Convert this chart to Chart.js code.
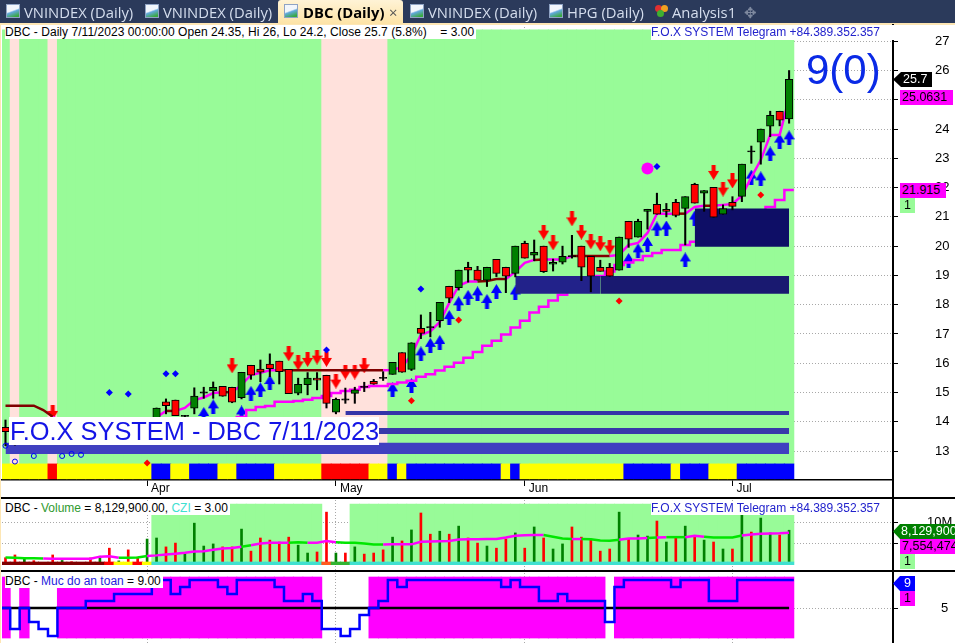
<!DOCTYPE html>
<html>
<head>
<meta charset="utf-8">
<title>DBC (Daily)</title>
<script src="https://cdn.jsdelivr.net/npm/chart.js@4"></script>
<style>
html, body { margin: 0; padding: 0; background: #fff; }
body { position: relative; width: 955px; height: 643px; overflow: hidden; font-family: "Liberation Sans", Arial, sans-serif; }
canvas { position: absolute; left: 0; }
.abs { position: absolute; white-space: nowrap; }
#tabbar { left: 0; top: 0; width: 955px; height: 23px; background: #2b3a5b; }
#tabline { left: 0; top: 23px; width: 955px; height: 2px; background: #fde6b4; }
#activeTab { left: 278px; top: 0; width: 125px; height: 24px; background: linear-gradient(#fff3d6, #fde3a6); border-radius: 3px 3px 0 0; }
.tab { top: 2px; font: 14.8px "Open Sans", sans-serif; color: #d5deee; line-height: 20px; }
.icon { top: 4px; width: 14px; height: 14px; box-sizing: border-box; border: 1px solid #8fa3c4; background: linear-gradient(160deg, #f2f6fc 45%, #63a9dc 55%, #39a83e 90%); }
.line { background: #000; }
.head { font-size: 12px; line-height: 14px; background: #fff; color: #000; padding-right: 2px; }
.fox { font-size: 12px; line-height: 14px; background: #fff; color: #2222cc; }
.tag { font-size: 12.5px; line-height: 15px; height: 15px; text-align: left; overflow: hidden; box-sizing: border-box; padding-left: 2px; }
.dot { width: 7px; height: 7px; border-radius: 50%; }
</style>
</head>
<body>
<canvas id="priceChart" width="955" height="473" style="top:24px"></canvas>
<canvas id="volumeChart" width="955" height="73" style="top:497px"></canvas>
<canvas id="safetyChart" width="955" height="73" style="top:570px"></canvas>

<div class="abs" id="tabbar"></div>
<div class="abs" id="tabline"></div>
<div class="abs" id="activeTab"></div>
<div class="abs icon" style="left:6px"></div><div class="abs tab" style="left:24px">VNINDEX (Daily)</div>
<div class="abs icon" style="left:145px"></div><div class="abs tab" style="left:163px">VNINDEX (Daily)</div>
<div class="abs icon" style="left:284px"></div><div class="abs tab" style="left:303px;color:#000;font-weight:700">DBC (Daily)</div>
<div class="abs tab" style="left:389px;color:#555">×</div>
<div class="abs icon" style="left:410px"></div><div class="abs tab" style="left:428px">VNINDEX (Daily)</div>
<div class="abs icon" style="left:549px"></div><div class="abs tab" style="left:567px">HPG (Daily)</div>
<div class="abs dot" style="left:655px;top:5px;background:#e03030"></div>
<div class="abs dot" style="left:661px;top:5px;background:#f0a020"></div>
<div class="abs dot" style="left:657px;top:10px;background:#40b030"></div>
<div class="abs tab" style="left:672px">Analysis1</div>
<div class="abs tab" style="left:744px;color:#7f8aa0">✥</div>

<div class="abs line" style="left:892px;top:24px;width:1.5px;height:619px"></div>
<div class="abs line" style="left:0;top:497px;width:955px;height:1.5px"></div>
<div class="abs line" style="left:0;top:570px;width:955px;height:1.5px"></div>
<div class="abs" style="left:0;top:25px;width:1px;height:618px;background:#fde6b4"></div>

<div class="abs head" style="left:5px;top:25px;height:14px;letter-spacing:.04px">DBC - Daily 7/11/2023 00:00:00 Open 24.35, Hi 26, Lo 24.2, Close 25.7 (5.8%) &nbsp; &nbsp;= 3.00</div>
<div class="abs fox" style="left:651px;top:25px;height:15px;width:243px;background:#fff">F.O.X SYSTEM Telegram +84.389.352.357</div>
<div class="abs" style="left:806px;top:44px;font-size:42px;line-height:52px;color:#0a2ae6">9(0)</div>
<div class="abs" style="left:9px;top:417px;width:370px;height:28px;background:#fff;color:#1414e6;font-size:25.4px;line-height:28px;padding-left:1px;box-sizing:border-box">F.O.X SYSTEM - DBC 7/11/2023</div>

<div class="abs tag" style="left:893px;top:72px;width:39px;background:#000;color:#fff;padding-left:10px;clip-path:polygon(0 50%,8px 0,100% 0,100% 100%,8px 100%)">25.7</div>
<div class="abs tag" style="left:900px;top:90px;width:53px;background:#f0f;color:#000">25.0631</div>
<div class="abs tag" style="left:900px;top:183px;width:46px;background:#f0f;color:#000">21.915</div>
<div class="abs tag" style="left:900px;top:198px;width:15px;background:#98fb98;color:#000;padding-left:4px">1</div>

<div class="abs head" style="left:5px;top:501px;height:14px"><span>DBC - </span><span style="color:#2f9a2f">Volume</span><span> = 8,129,900.00, </span><span style="color:#40e0d0">CZI</span><span> = 3.00</span></div>
<div class="abs fox" style="left:651px;top:501px;height:14px">F.O.X SYSTEM Telegram +84.389.352.357</div>
<div class="abs tag" style="left:893px;top:524px;width:62px;background:#008000;color:#fff;padding-left:8px;clip-path:polygon(0 50%,7px 0,100% 0,100% 100%,7px 100%)">8,129,900</div>
<div class="abs tag" style="left:900px;top:539px;width:55px;background:#f0f;color:#000">7,554,474</div>
<div class="abs tag" style="left:900px;top:554px;width:15px;background:#98fb98;color:#000;padding-left:4px">1</div>

<div class="abs head" style="left:5px;top:574px;height:14px"><span>DBC - </span><span style="color:#2222dd">Muc do an toan</span><span> = 9.00</span></div>
<div class="abs tag" style="left:893px;top:576px;width:22px;background:#00f;color:#fff;padding-left:11px;clip-path:polygon(0 50%,7px 0,100% 0,100% 100%,7px 100%)">9</div>
<div class="abs tag" style="left:900px;top:591px;width:15px;background:#f0f;color:#000;padding-left:4px">1</div>

<script>
// Trading days shown on the chart
const tradingDays = [
    '03-13','03-14','03-15','03-16','03-17','03-20','03-21','03-22','03-23','03-24','03-27','03-28','03-29','03-30','03-31',
    '04-03','04-04','04-05','04-06','04-07','04-10','04-11','04-12','04-13','04-14','04-17','04-18','04-19','04-20','04-21','04-24','04-25','04-26','04-27','04-28',
    '05-04','05-05','05-08','05-09','05-10','05-11','05-12','05-15','05-16','05-17','05-18','05-19','05-22','05-23','05-24','05-25','05-26','05-29','05-30','05-31',
    '06-01','06-02','06-05','06-06','06-07','06-08','06-09','06-12','06-13','06-14','06-15','06-16','06-19','06-20','06-21','06-22','06-23','06-26','06-27','06-28','06-29','06-30',
    '07-03','07-04','07-05','07-06','07-07','07-10','07-11'
];
const monthTickDays = ['04-03','05-04','06-01','07-03'];
const monthTickLabels = ['Apr','May','Jun','Jul'];
const priceTicks = [13,14,15,16,17,18,19,20,21,22,23,24,25,26,27];

// Candles (first bars sit behind the title box, values there are estimates)
const opens = [13.81,13.6,13.5,13.7,13.6,13.7,13.5,13.7,13.6,13.7,13.65,13.8,13.7,13.85,13.7,13.75,14.0,14.68,14.74,14.2,14.46,15.0,15.06,15.21,15.18,14.82,15.93,15.8,15.97,16.07,15.79,14.98,15.27,15.49,15.59,14.33,14.76,14.97,15.19,15.38,15.5,15.62,16.36,15.79,17.19,17.23,17.45,18.63,18.58,19.28,19.18,18.84,19.55,19.28,19.07,20.1,19.69,20.0,19.38,19.45,19.66,20.0,19.65,19.28,19.28,19.18,20.85,20.31,21.19,21.43,21.26,21.5,21.29,22.11,21.81,22.01,21.09,21.5,21.7,23.24,23.55,24.1,24.61,24.35];
const highs = [14.06,13.85,13.8,13.9,13.8,13.9,13.8,13.8,13.8,13.9,13.9,14.0,13.95,14.0,13.9,14.05,14.47,14.78,14.74,14.22,15.16,15.18,15.36,15.21,15.18,15.69,15.93,16.11,16.32,16.07,15.79,15.49,15.68,15.68,15.59,14.81,15.15,15.18,15.35,15.45,15.71,16.03,16.36,16.7,17.65,17.74,18.08,18.63,19.18,19.45,19.31,19.28,19.55,19.28,20.0,20.17,20.21,20.0,19.56,20.0,20.37,20.0,19.65,19.52,19.41,20.31,20.85,20.92,21.26,21.81,21.46,21.6,21.69,22.15,21.9,22.01,21.41,21.69,22.8,23.42,24.0,24.61,24.61,26];
const lows = [13.18,13.2,13.4,13.5,13.5,13.4,13.4,13.5,13.5,13.6,13.6,13.6,13.6,13.6,13.6,13.7,13.9,14.27,14.21,13.9,14.27,14.8,14.8,14.87,14.65,14.78,15.45,15.37,15.54,15.29,14.96,14.92,14.92,15.09,14.47,14.27,14.63,14.63,15.03,15.28,15.41,15.62,15.69,15.75,16.84,16.9,17.23,18.07,18.5,18.77,18.84,18.62,18.96,18.41,18.95,19.59,19.5,19.1,19.15,19.39,19.59,18.82,18.44,19.14,18.97,19.18,19.96,20.31,20.58,21.09,21.0,21.0,20.04,21.47,21.19,20.99,21.09,21.24,21.52,22.83,22.8,23.74,24.11,24.2];
const closes = [13.66,13.45,13.7,13.6,13.7,13.5,13.7,13.6,13.7,13.65,13.8,13.7,13.85,13.7,13.75,14.0,14.47,14.55,14.21,14.18,14.88,15.0,15.18,14.87,14.67,15.69,15.59,15.69,15.81,15.71,14.96,15.28,15.49,15.42,14.63,14.77,14.76,15.09,15.19,15.28,15.5,16.03,15.69,16.7,17.02,17.23,18.08,18.22,19.18,19.18,18.84,19.28,19.07,18.97,20.0,19.59,19.79,19.13,19.45,19.65,19.66,19.28,18.97,19.14,18.97,20.31,20.24,20.85,21.26,21.09,21.19,21.05,21.69,21.47,21.9,20.99,21.28,21.36,22.8,23.24,24.0,24.47,24.3,25.7];

// Trailing lines on the price pane
const fastLine = [14.55,14.55,14.55,14.55,14.4,14.17,14,14,14,14,14,14,14,14,14,14,14.16,14.37,14.37,14.47,14.74,14.83,14.98,15.01,15.01,15.26,15.6,15.67,15.76,15.76,15.76,15.76,15.76,15.76,15.76,15.76,15.76,15.76,15.76,15.76,15.76,15.77,15.87,16.28,16.97,17.09,17.41,18.06,18.64,18.79,18.79,18.81,18.88,18.88,19.12,19.43,19.53,19.54,19.54,19.54,19.66,19.66,19.66,19.66,19.66,19.7,20.04,20.11,20.45,21.11,21.11,21.11,21.11,21.34,21.38,21.38,21.41,21.44,21.72,22.36,22.94,23.8,23.8,25.06];
const fastLineFlat = [0,1,2,3,4,5,17,18,23,24,29,30,31,32,33,34,35,36,37,38,39,40,50,51,52,53,56,57,60,61,62,63,64,71,72,74,75];
const slowLine = [null,null,null,null,null,null,null,null,null,null,null,null,null,null,null,null,13.6,13.65,13.7,13.75,13.8,13.85,13.9,13.95,14.05,14.16,14.4,14.5,14.54,14.68,14.68,14.71,14.75,14.81,14.88,14.98,15.05,15.09,15.19,15.22,15.22,15.29,15.34,15.4,15.54,15.62,15.75,15.88,16.02,16.19,16.38,16.6,16.77,16.98,17.22,17.45,17.73,17.93,18.14,18.34,18.57,18.74,18.88,18.98,19.13,19.36,19.44,19.53,19.66,19.77,19.87,19.87,20.04,20.15,20.28,20.38,20.55,20.72,20.89,21.07,21.17,21.34,21.58,21.915];

// Support zones: first bar, last bar, low, high
const zoneStart = [0,38,36,54,63,73];
const zoneEnd = [83,83,83,63,83,83];
const zoneLow = [12.9,13.58,14.23,18.37,18.37,19.98];
const zoneHigh = [13.28,13.79,14.37,18.98,18.98,21.29];

// Signals: bar index and price
const buyBars = [21,22,25,26,27,28,41,43,44,45,46,47,48,49,50,51,52,54,66,67,68,69,70,72,73,79,80,81,82,83];
const buyPrices = [14.25,14.51,14.3,14.97,15.09,15.34,15.09,15.24,16.32,16.61,16.71,17.56,18.03,18.25,18.37,18.11,18.45,18.4,19.51,19.84,20.06,20.59,20.62,19.53,20.96,22.36,22.3,23.15,23.59,23.7];
const sellBars = [5,24,30,31,32,33,34,35,36,37,38,57,58,60,61,62,63,64,75,76,77];
const sellPrices = [14.32,15.91,16.32,16.01,16.13,16.21,16.13,15.39,15.7,15.7,15.91,20.48,20.11,20.93,20.48,20.15,20.08,19.97,22.52,21.95,22.23];
const blueDotBars = [11,13,17,18,34,44,69];
const blueDotPrices = [15.0,14.95,15.64,15.64,16.45,18.54,22.72];
const redDotBars = [15,43,48,65,80];
const redDotPrices = [12.59,14.72,17.48,18.13,21.75];
const ringBars = [0,1,3,6,7,8];
const ringPrices = [13.18,12.64,12.83,12.83,12.9,12.87];
const bigDotBars = [68];
const bigDotPrices = [22.65];

// Pane states per bar
const pinkBars = [1,5,34,35,36,37,38,39,40];
const trendStrip = 'YYYYYRYYYYYYYYYYBBYYBBBYYBBBBYYYYYRRRRRYYBYBBBBBBBBBBYBYYYYYYYYYYYBBBBBYBBBYYYBBBBBB'.split('');
const volumeStrip = 'DDDDDDDDDDDRYYRYTTTTTTTTTTTTTTTTTTOGGTTTTTTTTTTTTTTTTTTTTTTTTTTTTTTTTTTTTTTTTTTTTTTTTTTTTTTT'.slice(0, 84).split('');

// Volume in millions
const volumes = [1.65,2.3,1.3,0.95,0.5,2.3,1.0,0.7,0.3,1.6,2.0,3.9,0.9,3.5,1.8,6.05,6.3,4.2,5.1,2.6,9.8,4.4,4.9,4.2,4.2,8.4,3.2,6.3,5.8,5.35,6.5,4.6,2.75,3.0,12.4,2.75,2.75,4.2,2.5,2.75,3.5,6.5,5.6,8.2,12.2,7.2,7.9,7.2,9.1,6.3,5.1,4.4,3.9,6.05,7.5,3.9,8.9,6.3,3.7,4.9,8.9,6.5,6.05,3.2,3.7,12.4,6.05,7.0,6.75,10.3,5.35,6.5,9.1,6.75,5.8,5.35,3.7,3.7,12.0,7.7,11.0,7.5,7.0,8.13];
const volumeDir = 'RRGRRRGRGRGRGRRGGRRGGGGRRGRRRRRGGRRGRGRRRGRGRRGRGRRGRRGRGRGGRRRRRGRGGRGRGRGRGRGRGGRG'.split('');
const volumeAvg = [1.7,1.65,1.55,1.5,1.45,1.4,1.4,1.4,1.4,1.4,1.9,2.0,1.65,1.65,1.7,2.05,2.2,2.4,2.6,2.8,3.1,3.2,3.5,3.8,3.95,4.25,4.6,5.0,5.2,5.2,5.2,5.3,5.2,5.2,5.6,5.3,5.2,5.2,5.0,4.75,4.75,4.8,4.8,4.8,5.4,5.5,5.55,5.6,5.95,6.0,6.0,6.05,6.05,6.4,6.85,6.95,7.0,7.0,6.6,6.2,6.05,6.05,6.0,5.7,5.65,5.9,6.2,6.2,6.3,6.4,6.5,6.5,6.5,6.8,6.6,6.4,6.4,6.4,6.9,7.1,7.3,7.35,7.4,7.55];
const volumeAvgFalling = [0,1,2,3,12,13,14,25,30,31,35,36,37,38,39,57,58,59,61,62,63,64,68,70,71,74,75,76,77];
const noVolumeBg = [34,35,36];
const volumeTicks = [5,10];

// Safety level (Muc do an toan)
const safety = [5,2,5,3,2,1,5,5,5,6,6,6,7,7,7,7,9,9,7,8,9,9,9,8,7,9,9,9,9,8,6,6,7,6,2,2,1,2,4,5,6,9,8,9,9,9,9,9,9,9,9,9,9,8,9,8,8,6,6,7,6,6,6,6,3,8,9,9,9,9,9,8,9,9,9,6,6,6,9,9,9,9,9,9];
const safeWhiteBars = [1,3,4,5,34,35,36,37,38,64];
const safetyTicks = [5];

const stripColors = { Y: '#ffff00', B: '#0000ff', R: '#ff0000' };
const volStripColors = { D: '#800000', R: '#ff0000', Y: '#ffff00', T: '#40e0d0', O: '#ff5a1e', G: '#32b432' };
const GREEN_BG = '#98fb98';
const PINK_BG = '#ffe1dc';
const CELL = 9.7;
const X_MIN = -0.37;
const X_MAX = 93.9;

const barIndex = tradingDays.map((d, i) => i);
const monthTickIndex = monthTickDays.map(d => tradingDays.indexOf(d));

function zip(xs, ys) {
    return xs.map((x, i) => ({ x: x, y: ys[i] }));
}

// Same points, held flat half a bar past both ends for stepped lines
function withEnds(values) {
    const pts = zip(barIndex, values);
    const first = values.findIndex(v => v !== null);
    pts.splice(first, 0, { x: first - 0.5, y: values[first] });
    pts.push({ x: 83.5, y: values[values.length - 1] });
    return pts;
}

function cellBars(lo, hi, keep) {
    return barIndex.filter(keep).map(i => ({ x: i, y: [lo, hi] }));
}

function arrowStyle(color, up) {
    const c = document.createElement('canvas');
    c.width = 11;
    c.height = 15;
    const g = c.getContext('2d');
    g.fillStyle = color;
    g.beginPath();
    const shape = [[5.5,0],[11,9],[7.5,9],[7.5,15],[3.5,15],[3.5,9],[0,9]];
    shape.forEach((p, i) => {
        const y = up ? p[1] : 15 - p[1];
        if (i === 0) g.moveTo(p[0], y); else g.lineTo(p[0], y);
    });
    g.closePath();
    g.fill();
    return c;
}

function xAxis(showLabels) {
    return {
        type: 'linear',
        min: X_MIN,
        max: X_MAX,
        offset: false,
        afterBuildTicks: scale => { scale.ticks = monthTickIndex.map(v => ({ value: v })); },
        afterFit: scale => {
            scale.height = showLabels ? 17 : 0;
            scale.paddingLeft = 0;
            scale.paddingRight = 0;
        },
        grid: { offset: false, color: '#a8a8a8', tickColor: '#000', tickLength: showLabels ? 6 : 0, drawTicks: showLabels },
        border: { display: showLabels, color: '#000', width: 1.5, dash: [1, 2] },
        ticks: {
            display: showLabels,
            autoSkip: false,
            maxRotation: 0,
            align: 'start',
            labelOffset: 4,
            padding: -5,
            color: '#000',
            font: { family: '"Liberation Sans"', size: 12 },
            callback: value => monthTickLabels[monthTickIndex.indexOf(value)]
        }
    };
}

function yAxis(min, max, tickValues, labelPad, format) {
    return {
        position: 'right',
        min: min,
        max: max,
        afterBuildTicks: scale => { scale.ticks = tickValues.map(v => ({ value: v })); },
        afterFit: scale => {
            scale.width = 63;
            scale.paddingTop = 0;
            scale.paddingBottom = 0;
        },
        grid: { color: '#a8a8a8', tickColor: '#000', tickLength: 6 },
        border: { display: false, dash: [1, 2] },
        ticks: {
            autoSkip: false,
            crossAlign: 'near',
            padding: labelPad,
            color: '#000',
            font: { family: '"Liberation Sans"', size: 13 },
            callback: format
        }
    };
}

function baseOptions(x, y) {
    return {
        responsive: false,
        animation: false,
        layout: { autoPadding: false, padding: { left: 2, right: 0, top: 0, bottom: 0 } },
        plugins: { legend: { display: false }, tooltip: { enabled: false }, title: { display: false } },
        scales: { x: x, y: y }
    };
}

// Price pane
function initializePriceChart() {
    const zones = zoneStart.map((s, i) => ({
        type: 'line',
        order: i === 3 ? 12 : 13 - i,
        data: [{ x: s, y: zoneHigh[i] }, { x: zoneEnd[i], y: zoneHigh[i] }],
        borderWidth: 0,
        pointRadius: 0,
        fill: { value: zoneLow[i] },
        backgroundColor: ['#4040c0', '#3939aa', '#3535a8', '#22228a', '#191970', '#0e0e66'][i]
    }));

    const bodyColors = barIndex.map(i => {
        if (Math.abs(opens[i] - closes[i]) < 0.02) return '#000';
        return closes[i] > opens[i] ? '#008000' : '#ff0000';
    });

    new Chart(document.getElementById('priceChart').getContext('2d'), {
        type: 'bar',
        data: {
            datasets: [
                {
                    order: 30,
                    data: cellBars(12.56, 27.39, () => true),
                    backgroundColor: barIndex.map(i => pinkBars.includes(i) ? PINK_BG : GREEN_BG),
                    barThickness: CELL,
                    grouped: false
                },
                {
                    order: 29,
                    data: cellBars(12.05, 12.56, () => true),
                    backgroundColor: trendStrip.map(s => stripColors[s]),
                    barThickness: CELL,
                    grouped: false
                },
                {
                    type: 'scatter', order: 20,
                    data: zip(buyBars, buyPrices),
                    pointStyle: arrowStyle('#0000ff', true),
                    pointRadius: 6
                },
                {
                    type: 'scatter', order: 19,
                    data: zip(sellBars, sellPrices),
                    pointStyle: arrowStyle('#ff0000', false),
                    pointRadius: 6
                },
                {
                    type: 'line', order: 18,
                    data: withEnds(slowLine),
                    borderColor: '#ff00ff',
                    borderWidth: 2.5,
                    pointRadius: 0,
                    stepped: 'middle'
                },
                ...zones,
                {
                    type: 'line', order: 6,
                    data: zip(barIndex, fastLine),
                    borderWidth: 2.5,
                    borderColor: '#ff00ff',
                    pointRadius: 0,
                    segment: {
                        borderColor: c => fastLineFlat.includes(c.p0DataIndex) && fastLineFlat.includes(c.p1DataIndex) ? '#800000' : '#ff00ff'
                    }
                },
                {
                    order: 5,
                    data: barIndex.map(i => ({ x: i, y: [lows[i], highs[i]] })),
                    backgroundColor: '#000',
                    barThickness: 1.4,
                    grouped: false
                },
                {
                    order: 4,
                    data: barIndex.map(i => {
                        const gap = Math.abs(opens[i] - closes[i]);
                        return { x: i, y: gap < 0.02 ? [opens[i] - 0.02, opens[i] + 0.02] : [opens[i], closes[i]] };
                    }),
                    backgroundColor: bodyColors,
                    borderColor: '#000',
                    borderWidth: 1,
                    borderSkipped: false,
                    barThickness: 7.5,
                    grouped: false
                },
                {
                    type: 'scatter', order: 3,
                    data: zip(blueDotBars, blueDotPrices),
                    pointStyle: 'rectRot',
                    pointRadius: 3.5,
                    backgroundColor: '#0000ff',
                    borderWidth: 0
                },
                {
                    type: 'scatter', order: 2,
                    data: zip(redDotBars, redDotPrices),
                    pointStyle: 'rectRot',
                    pointRadius: 3.5,
                    backgroundColor: '#ff0000',
                    borderWidth: 0
                },
                {
                    type: 'scatter', order: 2,
                    data: zip(ringBars, ringPrices),
                    pointStyle: 'circle',
                    pointRadius: 2.5,
                    backgroundColor: 'transparent',
                    borderColor: '#0000ff',
                    borderWidth: 1
                },
                {
                    type: 'scatter', order: 1,
                    data: zip(bigDotBars, bigDotPrices),
                    pointStyle: 'circle',
                    pointRadius: 6,
                    backgroundColor: '#ff00ff',
                    borderWidth: 0
                }
            ]
        },
        options: baseOptions(xAxis(true), yAxis(12.01, 27.59, priceTicks, 37, v => String(v)))
    });
}

// Volume pane
function initializeVolumeChart() {
    new Chart(document.getElementById('volumeChart').getContext('2d'), {
        type: 'bar',
        data: {
            datasets: [
                {
                    order: 10,
                    data: cellBars(0.64, 14.3, i => i >= 16 && !noVolumeBg.includes(i)),
                    backgroundColor: GREEN_BG,
                    barThickness: CELL,
                    grouped: false
                },
                {
                    order: 4,
                    data: barIndex.map(i => ({ x: i, y: [0, volumes[i]] })),
                    backgroundColor: volumeDir.map(d => d === 'G' ? '#008000' : '#ff0000'),
                    barThickness: 2,
                    grouped: false
                },
                {
                    order: 3,
                    data: cellBars(0, 0.64, () => true),
                    backgroundColor: volumeStrip.map(s => volStripColors[s]),
                    barThickness: CELL,
                    grouped: false
                },
                {
                    type: 'line', order: 2,
                    data: zip(barIndex, volumeAvg),
                    borderWidth: 2.5,
                    borderColor: '#ff00ff',
                    pointRadius: 0,
                    segment: {
                        borderColor: c => volumeAvgFalling.includes(c.p0DataIndex) ? '#00e600' : '#ff00ff'
                    }
                }
            ]
        },
        options: baseOptions(xAxis(false), yAxis(-1.25, 15.97, volumeTicks, 29, v => v + 'M'))
    });
}

// Safety pane
function initializeSafetyChart() {
    new Chart(document.getElementById('safetyChart').getContext('2d'), {
        type: 'bar',
        data: {
            datasets: [
                {
                    order: 10,
                    data: cellBars(0.71, 9.43, i => !safeWhiteBars.includes(i)),
                    backgroundColor: '#ff00ff',
                    barThickness: CELL,
                    grouped: false
                },
                {
                    type: 'line', order: 3,
                    data: [{ x: X_MIN, y: 5 }, { x: 83, y: 5 }],
                    borderColor: '#000',
                    borderWidth: 2.5,
                    pointRadius: 0
                },
                {
                    type: 'line', order: 2,
                    data: withEnds(safety),
                    borderColor: '#0000ff',
                    borderWidth: 2.5,
                    pointRadius: 0,
                    stepped: 'middle'
                }
            ]
        },
        options: baseOptions(xAxis(false), yAxis(0, 10.43, safetyTicks, 43, v => String(v)))
    });
}

initializePriceChart();
initializeVolumeChart();
initializeSafetyChart();
</script>
</body>
</html>
